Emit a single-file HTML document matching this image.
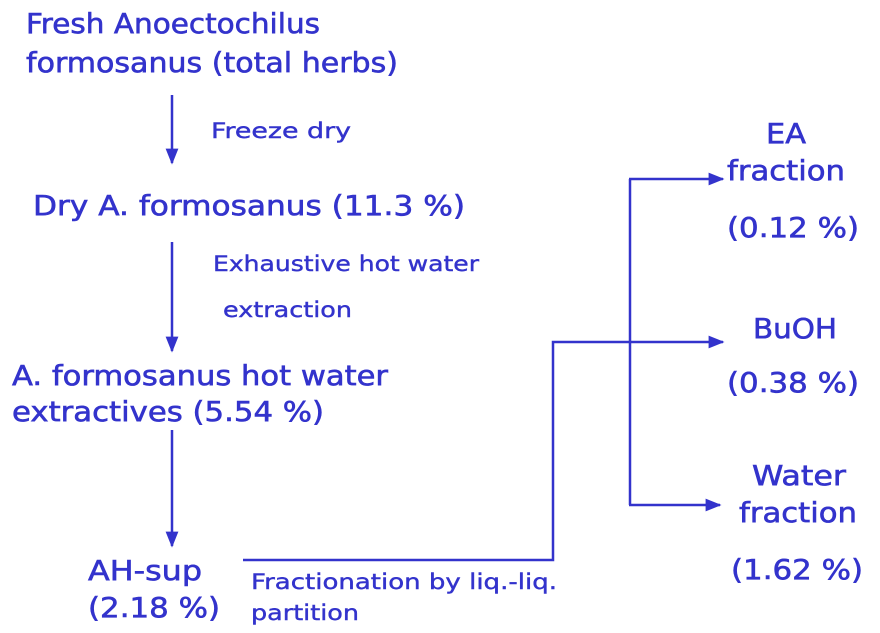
<!DOCTYPE html>
<html><head><meta charset="utf-8"><style>html,body{margin:0;padding:0;background:#fff}svg{display:block}</style></head>
<body>
<svg width="880" height="633" viewBox="0 0 880 633" xmlns="http://www.w3.org/2000/svg">
<defs>
<marker id="b" viewBox="0 0 10 10" refX="9" refY="5" markerWidth="16" markerHeight="16" markerUnits="userSpaceOnUse" orient="auto"><path d="M0,1L10,5L0,9z" fill="#3333cc"/></marker></defs>
<g fill="#3333cc" stroke="#3333cc" stroke-width="0.6" font-family="DejaVu Sans, Liberation Sans, sans-serif">
<g font-size="28">
<text x="26" y="33" textLength="294" lengthAdjust="spacingAndGlyphs">Fresh Anoectochilus</text>
<text x="26" y="72" textLength="372" lengthAdjust="spacingAndGlyphs">formosanus (total herbs)</text>
<text x="33" y="215" textLength="432" lengthAdjust="spacingAndGlyphs">Dry A. formosanus (11.3 %)</text>
<text x="12" y="385" textLength="376" lengthAdjust="spacingAndGlyphs">A. formosanus hot water</text>
<text x="12" y="421" textLength="312" lengthAdjust="spacingAndGlyphs">extractives (5.54 %)</text>
<text x="88" y="580" textLength="114" lengthAdjust="spacingAndGlyphs">AH-sup</text>
<text x="88" y="617" textLength="132" lengthAdjust="spacingAndGlyphs">(2.18 %)</text>
<text x="766" y="143" textLength="40" lengthAdjust="spacingAndGlyphs">EA</text>
<text x="727" y="180" textLength="118" lengthAdjust="spacingAndGlyphs">fraction</text>
<text x="727" y="237" textLength="132" lengthAdjust="spacingAndGlyphs">(0.12 %)</text>
<text x="753" y="338" textLength="84" lengthAdjust="spacingAndGlyphs">BuOH</text>
<text x="727" y="392" textLength="132" lengthAdjust="spacingAndGlyphs">(0.38 %)</text>
<text x="752" y="485" textLength="94" lengthAdjust="spacingAndGlyphs">Water</text>
<text x="739" y="522" textLength="118" lengthAdjust="spacingAndGlyphs">fraction</text>
<text x="731" y="579" textLength="132" lengthAdjust="spacingAndGlyphs">(1.62 %)</text>
</g>
<g font-size="21" stroke-width="0.4">
<text x="211" y="138" textLength="140" lengthAdjust="spacingAndGlyphs">Freeze dry</text>
<text x="213" y="271" textLength="266" lengthAdjust="spacingAndGlyphs">Exhaustive hot water</text>
<text x="223" y="317" textLength="129" lengthAdjust="spacingAndGlyphs">extraction</text>
<text x="251" y="589" textLength="306" lengthAdjust="spacingAndGlyphs">Fractionation by liq.-liq.</text>
<text x="251" y="620" textLength="108" lengthAdjust="spacingAndGlyphs">partition</text>
</g>
</g>
<g stroke="#3333cc" stroke-width="2.5" fill="none">
<line x1="172" y1="95" x2="172" y2="163" marker-end="url(#b)"/>
<line x1="172" y1="242" x2="172" y2="351" marker-end="url(#b)"/>
<line x1="172" y1="430" x2="172" y2="546" marker-end="url(#b)"/>
<polyline points="243,560 553,560 553,342 723,342" marker-end="url(#b)"/>
<line x1="630" y1="179" x2="630" y2="505"/>
<line x1="629" y1="179" x2="723" y2="179" marker-end="url(#b)"/>
<line x1="629" y1="505" x2="720" y2="505" marker-end="url(#b)"/>
</g>
</svg>
</body></html>
